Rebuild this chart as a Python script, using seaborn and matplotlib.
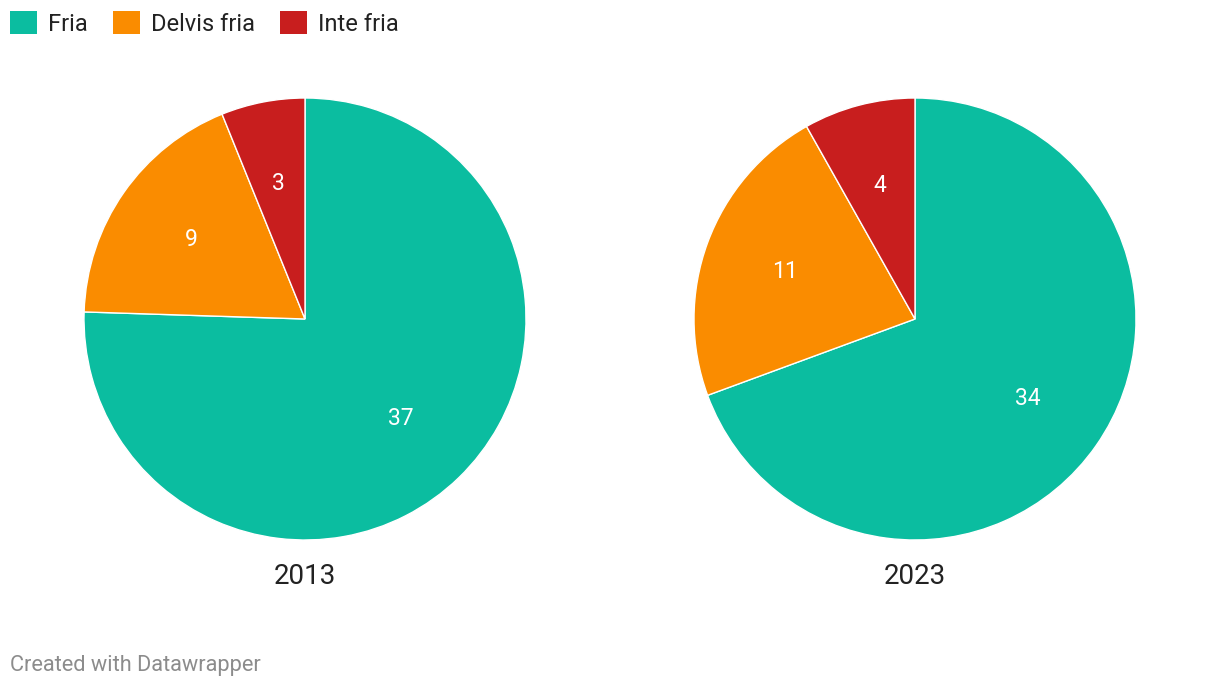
import matplotlib
matplotlib.use("Agg")
import matplotlib.pyplot as plt
from matplotlib.patches import Patch
import seaborn as sns

categories = ["Fria", "Delvis fria", "Inte fria"]
years = ["2013", "2023"]
values_2013 = [37, 9, 3]
values_2023 = [34, 11, 4]
colors = ["#0bbda0", "#fa8c00", "#c81e1e"]

sns.set_theme(style="white")
plt.rcParams["font.family"] = ["Roboto", "DejaVu Sans"]

fig = plt.figure(figsize=(12.2, 6.88), dpi=100)
fig.patch.set_facecolor("white")

W, H = 1220, 688
r = 221
centers = [(305, 319), (915, 319)]
for (cx, cy), vals, yr in zip(centers, [values_2013, values_2023], years):
    ax = fig.add_axes([(cx - r) / W, 1 - (cy + r) / H, 2 * r / W, 2 * r / H])
    total = sum(vals)
    wedges, texts, autotexts = ax.pie(
        vals, colors=colors, startangle=90, counterclock=False,
        autopct=lambda p, t=total: f"{round(p * t / 100)}",
        pctdistance=0.625,
        wedgeprops=dict(edgecolor="white", linewidth=1),
        textprops=dict(color="white", fontsize=16.5),
    )
    ax.set_xlim(-1, 1)
    ax.set_ylim(-1, 1)
    ax.set_aspect("equal")
    ax.axis("off")
    fig.text(cx / W, 1 - 577 / H, yr, ha="center", va="center",
             fontsize=20, color="#222222")

handles = [Patch(facecolor=c, edgecolor="none", label=l) for c, l in zip(colors, categories)]
fig.legend(handles=handles, loc="upper left", bbox_to_anchor=(10 / W, 1 - 11 / H),
           ncol=3, frameon=False, fontsize=17, handlelength=1.15, handleheight=1.15,
           handletextpad=0.47, columnspacing=1.05, borderaxespad=0, borderpad=0,
           labelcolor="#222222")

fig.text(10 / W, 1 - 666 / H, "Created with Datawrapper", ha="left", va="center",
         fontsize=15.7, color="#8c8c8c")

fig.savefig("out.png", dpi=100, facecolor="white")
